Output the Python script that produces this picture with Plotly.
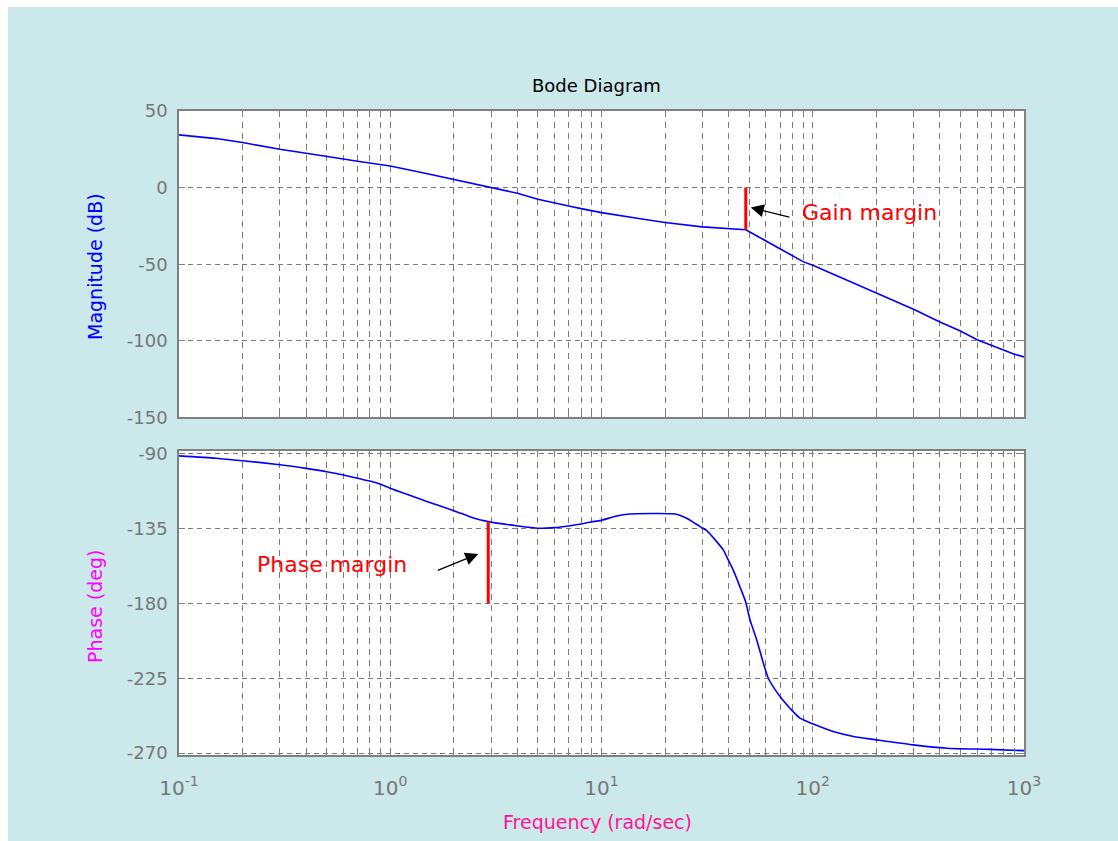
import math
import plotly.graph_objects as go

# ---------------- data ----------------
freq_mag = [0.1, 0.15, 0.2, 0.3, 0.4, 0.5, 0.6, 0.7, 0.8, 0.9, 1.0, 1.5, 2.0, 2.5, 3.0,
            4.0, 5.0, 6.0, 7.0, 8.0, 9.0, 10.0, 15.0, 20.0, 30.0, 40.0, 48.2, 55.0,
            60.0, 70.0, 80.0, 90.0, 100.0, 150.0, 200.0, 300.0, 400.0, 500.0, 600.0,
            700.0, 800.0, 900.0, 1000.0]
mag_db = [34.4, 32.0, 29.4, 25.0, 22.4, 20.6, 18.7, 17.2, 16.0, 15.0, 14.1, 9.1, 5.4, 2.1, 0.0,
          -3.7, -7.6, -10.2, -12.0, -13.7, -15.3, -16.3, -20.2, -22.8, -25.6, -27.0, -27.5, -31.9,
          -34.8, -40.0, -44.6, -48.3, -50.7, -61.4, -68.5, -79.4, -87.7, -93.6, -99.3,
          -103.0, -106.3, -108.7, -110.5]

freq_phase = [0.1, 0.15, 0.2, 0.3, 0.4, 0.5, 0.6, 0.7, 0.8, 0.9, 1.0, 1.5, 2.0, 2.5, 2.91,
              4.0, 5.0, 6.0, 7.0, 8.0, 9.0, 9.85, 11.8, 13.6, 17.0, 22.3, 25.3, 29.3, 31.5,
              37.7, 39.8, 42.0, 45.2, 48.1, 50.5, 54.3, 58.4, 61.6, 70.0, 78.0, 87.0,
              100.6, 125.0, 156.0, 201.0, 299.0, 430.0, 690.0, 1000.0]
phase_deg = [-91.4, -92.8, -94.3, -96.7, -98.9, -100.9, -102.9, -104.9, -106.5, -108.5, -110.9,
             -118.9, -124.3, -128.9, -130.9, -133.5, -134.9, -134.5, -133.5, -132.3, -131.0,
             -130.3, -127.5, -126.3, -126.0, -126.3, -128.9, -133.9, -136.3, -147.9, -153.9,
             -159.9, -170.0, -179.0, -190.0, -202.0, -216.0, -225.0, -236.0, -243.0, -249.0,
             -252.5, -257.0, -260.0, -262.0, -265.0, -267.0, -267.7, -268.5]

gm_freq = [48.2, 48.2]
gm_mag = [0.0, -27.5]
pm_freq = [2.91, 2.91]
pm_phase = [-130.9, -180.0]

gm_arrow_head = (50.9, -13.0)
pm_arrow_head = (2.61, -150.3)
gm_text_pos = (87.0, -16.1)
pm_text_pos = (0.229, -156.9)

x_tickvals = [0.1, 1, 10, 100, 1000]
x_ticktext = ["10<sup>-1</sup>", "10<sup>0</sup>", "10<sup>1</sup>", "10<sup>2</sup>", "10<sup>3</sup>"]
x_minorvals = [m * 10.0 ** e for e in range(-1, 3) for m in range(2, 10)]
mag_tickvals = [-150, -100, -50, 0, 50]
mag_ticktext = ["-150", "-100", "-50", "0", "50"]
phase_tickvals = [-270, -225, -180, -135, -90]
phase_ticktext = ["-270", "-225", "-180", "-135", "-90"]

# ---------------- style ----------------
BG = "#CBE8EA"
AXC = "#808080"
GRID = "#7a7a7a"
FONT = "DejaVu Sans"

fig = go.Figure()
fig.add_trace(go.Scatter(x=freq_mag, y=mag_db, xaxis="x", yaxis="y", mode="lines",
                         line=dict(color="#0000FF", width=1.6), showlegend=False))
fig.add_trace(go.Scatter(x=gm_freq, y=gm_mag, xaxis="x", yaxis="y", mode="lines",
                         line=dict(color="#FF0000", width=3), showlegend=False))
fig.add_trace(go.Scatter(x=freq_phase, y=phase_deg, xaxis="x2", yaxis="y2", mode="lines",
                         line=dict(color="#0000FF", width=1.6, shape="spline", smoothing=0.6),
                         showlegend=False))
fig.add_trace(go.Scatter(x=pm_freq, y=pm_phase, xaxis="x2", yaxis="y2", mode="lines",
                         line=dict(color="#FF0000", width=3), showlegend=False))

common_x = dict(type="log", range=[-1, 3], tickmode="array", tickvals=x_tickvals,
                ticktext=x_ticktext, showline=True, linecolor=AXC, linewidth=1.5,
                mirror="ticks", ticks="inside", ticklen=6, tickcolor=AXC,
                showgrid=True, gridcolor=GRID, griddash="6px,5px", gridwidth=1,
                zeroline=False,
                minor=dict(tickmode="array", tickvals=x_minorvals, ticks="inside",
                           ticklen=5, tickcolor=AXC, showgrid=True, gridcolor=GRID,
                           griddash="6px,5px", gridwidth=1))
common_y = dict(showline=True, linecolor=AXC, linewidth=1.5, mirror="ticks",
                ticks="inside", ticklen=6, tickcolor=AXC, showgrid=True,
                gridcolor=GRID, griddash="5px,4px", gridwidth=1, zeroline=False,
                tickfont=dict(family=FONT, size=18, color="#777777"),
                ticklabelstandoff=6)

fig.update_layout(
    width=1118, height=841,
    margin=dict(l=179, r=94, t=111, b=86),
    paper_bgcolor=BG, plot_bgcolor="white",
    xaxis=dict(common_x, anchor="y", domain=[0, 1], showticklabels=False),
    xaxis2=dict(common_x, anchor="y2", domain=[0, 1], matches="x",
                tickfont=dict(family=FONT, size=20, color="#777777"),
                ticklabelstandoff=14),
    yaxis=dict(common_y, anchor="x", domain=[0.5241, 1.0], range=[-150, 50],
               tickmode="array", tickvals=mag_tickvals, ticktext=mag_ticktext),
    yaxis2=dict(common_y, anchor="x2", domain=[0.0, 0.4725], range=[-271.1, -88.3],
                tickmode="array", tickvals=phase_tickvals, ticktext=phase_ticktext),
    shapes=[
        dict(type="rect", xref="paper", yref="paper", x0=-0.25, x1=(8 - 179) / 845,
             y0=-0.2, y1=1.25, fillcolor="white", line=dict(width=0), layer="below"),
        dict(type="rect", xref="paper", yref="paper", x0=-0.25, x1=1.2,
             y0=(755 - 7) / 644, y1=1.25, fillcolor="white", line=dict(width=0), layer="below"),
    ],
)

ann = []
ann.append(dict(text="Bode Diagram", xref="paper", yref="paper", x=(596 - 179) / 845,
                y=(755 - 86) / 644, xanchor="center", yanchor="middle", showarrow=False,
                font=dict(family=FONT, size=18, color="black")))
ann.append(dict(text="Magnitude (dB)", xref="paper", yref="paper", x=(95 - 179) / 845,
                y=(755 - 267) / 644, xanchor="center", yanchor="middle", showarrow=False,
                textangle=-90, font=dict(family=FONT, size=19, color="#0000FF")))
ann.append(dict(text="Phase (deg)", xref="paper", yref="paper", x=(95 - 179) / 845,
                y=(755 - 607) / 644, xanchor="center", yanchor="middle", showarrow=False,
                textangle=-90, font=dict(family=FONT, size=19, color="#FF00FF")))
ann.append(dict(text="Frequency (rad/sec)", xref="paper", yref="paper", x=(597 - 179) / 845,
                y=(755 - 822) / 644, xanchor="center", yanchor="middle", showarrow=False,
                font=dict(family=FONT, size=19, color="#FF1493")))
ann.append(dict(text="Gain margin", xref="x", yref="y", x=math.log10(gm_text_pos[0]),
                y=gm_text_pos[1], xanchor="left", yanchor="middle", showarrow=False,
                font=dict(family=FONT, size=22, color="#FF0000")))
ann.append(dict(text="Phase margin", xref="x2", yref="y2", x=math.log10(pm_text_pos[0]),
                y=pm_text_pos[1], xanchor="left", yanchor="middle", showarrow=False,
                font=dict(family=FONT, size=22, color="#FF0000")))
ann.append(dict(text="", xref="x", yref="y", x=math.log10(gm_arrow_head[0]),
                y=gm_arrow_head[1], ax=40, ay=10, showarrow=True, arrowhead=2,
                arrowsize=2.0, arrowwidth=1.3, arrowcolor="black"))
ann.append(dict(text="", xref="x2", yref="y2", x=math.log10(pm_arrow_head[0]),
                y=pm_arrow_head[1], ax=-42, ay=17, showarrow=True, arrowhead=2,
                arrowsize=2.0, arrowwidth=1.3, arrowcolor="black"))
fig.update_layout(annotations=ann)

fig.write_html("out.html")
